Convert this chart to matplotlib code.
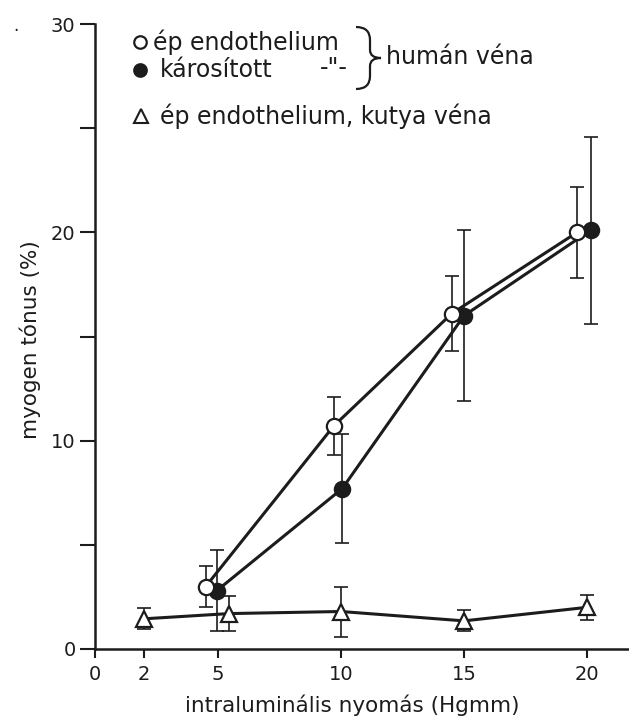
import matplotlib.pyplot as plt
from matplotlib.lines import Line2D
from matplotlib.path import Path
from matplotlib.patches import PathPatch

# human vein, intact endothelium (open circles)
x_open = [4.5, 9.7, 14.5, 19.6]
y_open = [3.0, 10.7, 16.1, 20.0]
err_open = [1.0, 1.4, 1.8, 2.2]

# human vein, damaged endothelium (filled circles)
x_filled = [4.95, 10.05, 15.0, 20.15]
y_filled = [2.8, 7.7, 16.0, 20.1]
err_filled = [1.95, 2.6, 4.1, 4.5]

# dog vein, intact endothelium (triangles)
x_dog = [2.0, 5.45, 10.0, 15.0, 20.0]
y_dog = [1.45, 1.7, 1.8, 1.35, 2.0]
err_dog = [0.5, 0.85, 1.2, 0.5, 0.6]

xticks = [0, 2, 5, 10, 15, 20]
yticks = [0, 5, 10, 15, 20, 25, 30]
ytick_labels = ["0", "", "10", "", "20", "", "30"]

W, H = 629, 723
ink = "#1c1c1c"


def px(x, y):
    return x / W, 1 - y / H


fig = plt.figure(figsize=(W / 100, H / 100), dpi=100)
ax = fig.add_axes([95 / W, 74 / H, 534 / W, 625 / H])
ax.set_xlim(0, 534 / 24.6)
ax.set_ylim(0, 30)

for xs, ys, es in [(x_open, y_open, err_open), (x_filled, y_filled, err_filled), (x_dog, y_dog, err_dog)]:
    ax.errorbar(xs, ys, yerr=es, fmt="none", ecolor=ink, elinewidth=1.2, capsize=5, capthick=1.2, zorder=2)

ax.plot(x_open, y_open, color=ink, lw=2.2, marker="o", ms=11, mfc="white", mec=ink, mew=1.6, zorder=4)
ax.plot(x_filled, y_filled, color=ink, lw=2.2, marker="o", ms=11, mfc=ink, mec=ink, mew=1.6, zorder=3)
ax.plot(x_dog, y_dog, color=ink, lw=2.2, marker="^", ms=12, mfc="white", mec=ink, mew=1.6, zorder=3)

for s in ["top", "right"]:
    ax.spines[s].set_visible(False)
for s in ["left", "bottom"]:
    ax.spines[s].set_linewidth(1.8)
    ax.spines[s].set_color(ink)

ax.set_xticks(xticks)
ax.set_yticks(yticks)
ax.set_yticklabels(ytick_labels)
ax.tick_params(axis="y", direction="out", length=11, width=1.5, labelsize=14, pad=3, colors=ink)
ax.tick_params(axis="x", direction="out", length=6.5, width=1.5, labelsize=14, pad=5, colors=ink)

fig.text(*px(352, 705), "intraluminális nyomás (Hgmm)", ha="center", va="center", fontsize=15.5, color=ink)
fig.text(*px(30, 340), "myogen tónus (%)", ha="center", va="center", rotation=90, fontsize=15.5, color=ink)
fig.text(*px(16, 26), ".", ha="center", va="center", fontsize=12, color=ink)

# legend drawn as text, as in the original figure
fs = 17
fig.add_artist(Line2D([px(140, 42)[0]], [px(140, 42)[1]], transform=fig.transFigure, marker="o", ms=9,
                      mfc="white", mec=ink, mew=1.6, ls="none"))
fig.text(*px(153, 42), "ép endothelium", ha="left", va="center", fontsize=fs, color=ink)
fig.add_artist(Line2D([px(140, 70)[0]], [px(140, 70)[1]], transform=fig.transFigure, marker="o", ms=9,
                      mfc=ink, mec=ink, mew=1.6, ls="none"))
fig.text(*px(160, 70), "károsított", ha="left", va="center", fontsize=fs, color=ink)
fig.text(*px(320, 68), '-"-', ha="left", va="center", fontsize=fs, color=ink)

brace = [px(356, 27), px(370, 27), px(370, 40), px(370, 50), px(370, 58), px(381, 58),
         px(370, 58), px(370, 66), px(370, 76), px(370, 89), px(356, 89)]
codes = [Path.MOVETO, Path.CURVE3, Path.CURVE3, Path.LINETO, Path.CURVE3, Path.CURVE3,
         Path.CURVE3, Path.CURVE3, Path.LINETO, Path.CURVE3, Path.CURVE3]
fig.add_artist(PathPatch(Path(brace, codes), transform=fig.transFigure, fill=False, lw=1.6, ec=ink))
fig.text(*px(386, 57), "humán véna", ha="left", va="center", fontsize=fs, color=ink)

fig.add_artist(Line2D([px(141, 116)[0]], [px(141, 116)[1]], transform=fig.transFigure, marker="^", ms=10,
                      mfc="white", mec=ink, mew=1.5, ls="none"))
fig.text(*px(160, 116), "ép endothelium, kutya véna", ha="left", va="center", fontsize=fs, color=ink)

fig.savefig("out.png", dpi=100)
